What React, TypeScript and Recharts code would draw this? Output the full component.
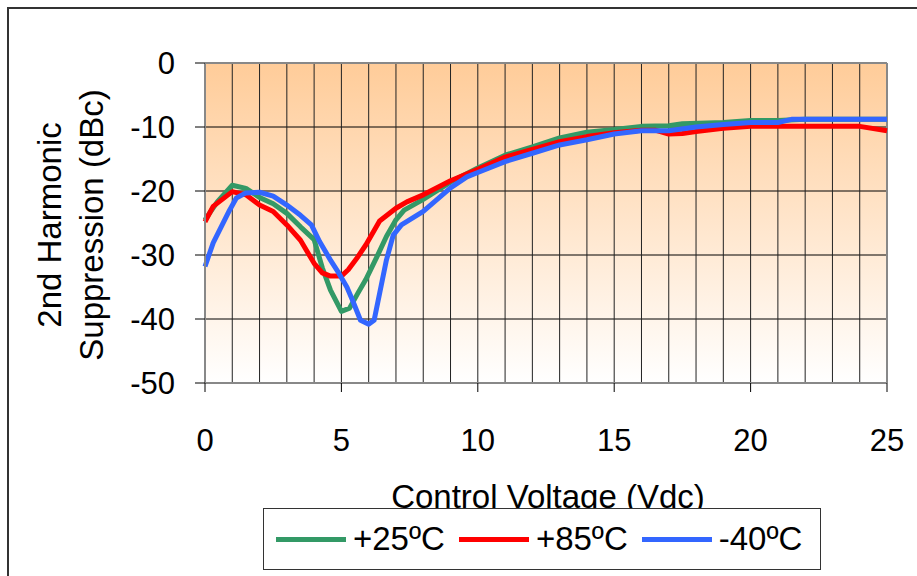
import React from "react";
import {
  LineChart,
  Line,
  XAxis,
  YAxis,
  CartesianGrid,
  ReferenceLine,
  Label,
} from "recharts";

const FONT = "'Liberation Sans', Arial, sans-serif";
const W = 917;
const H = 576;

const X_TICKS = [0, 5, 10, 15, 20, 25];
const Y_TICKS = [0, -10, -20, -30, -40, -50];
const GRID_X = [1, 2, 3, 4, 5, 6, 7, 8, 9, 10, 11, 12, 13, 14, 15, 16, 17, 18, 19, 20, 21, 22, 23, 24];

// +25ºC
const T25_X = [0, 0.45, 1, 1.5, 2, 2.5, 3, 3.5, 4, 4.3, 4.6, 5, 5.3, 5.6, 5.9, 6.3, 6.65, 7, 7.3, 8, 9, 10, 11, 12, 13, 14, 15, 16, 17, 17.5, 19, 20, 21, 22, 25];
const T25_Y = [-24.5, -21.7, -19.1, -19.6, -21, -22, -23.5, -25.6, -27.6, -32, -35.5, -38.8, -38.3, -36, -33.8, -30.3, -27.1, -24.5, -23, -21.3, -18.6, -16.4, -14.4, -13.1, -11.7, -10.8, -10.4, -9.9, -9.8, -9.5, -9.3, -9.0, -9.0, -8.8, -8.8];

// +85ºC
const T85_X = [0, 0.3, 1, 1.5, 2, 2.5, 3, 3.5, 4, 4.3, 4.6, 5, 5.25, 5.6, 5.9, 6.4, 7, 7.4, 8, 9, 10, 11, 12, 13, 14, 15, 16, 16.5, 17, 17.5, 18, 19, 20, 24, 25];
const T85_Y = [-24.8, -22.4, -20.1, -20.6, -22.2, -23.2, -25.3, -27.7, -31.3, -32.8, -33.3, -33.3, -32.3, -30.3, -28.4, -24.7, -22.7, -21.7, -20.6, -18.4, -16.6, -14.7, -13.5, -12.3, -11.5, -10.9, -10.5, -10.5, -11.1, -11, -10.7, -10.2, -9.9, -9.9, -10.6];

// -40ºC
const TM40_X = [0, 0.3, 0.9, 1.15, 1.5, 2, 2.5, 3, 3.5, 3.9, 4.2, 4.6, 4.9, 5.2, 5.4, 5.7, 6, 6.2, 6.4, 6.65, 6.9, 7.2, 8, 9, 9.6, 10, 11, 12, 13, 14, 15, 16, 17, 18, 19, 20, 21, 21.5, 25];
const TM40_Y = [-31.8, -28.1, -23, -21.1, -20.3, -20.2, -20.8, -22.2, -23.8, -25.3, -27.9, -30.8, -32.8, -35, -37, -40.2, -40.8, -40.2, -36, -30.8, -26.9, -25.3, -23.2, -19.5, -17.8, -17.1, -15.4, -14.1, -12.8, -12, -11.1, -10.6, -10.6, -10, -9.6, -9.3, -9.3, -8.8, -8.8];

const zip = (xs: number[], ys: number[]) => xs.map((x, i) => ({ x, y: ys[i] }));

const SERIES = [
  { name: "+25ºC", color: "#339966", data: zip(T25_X, T25_Y) },
  { name: "+85ºC", color: "#FF0000", data: zip(T85_X, T85_Y) },
  { name: "-40ºC", color: "#3366FF", data: zip(TM40_X, TM40_Y) },
];

function YTitle({ viewBox }: any) {
  const cy = viewBox.y + viewBox.height / 2 + 2;
  return (
    <g fontFamily={FONT} fontSize={33} fill="#000">
      <text x={61} y={cy} textAnchor="middle" transform={`rotate(-90 61 ${cy})`}>
        2nd Harmonic
      </text>
      <text x={103} y={cy} textAnchor="middle" transform={`rotate(-90 103 ${cy})`}>
        Suppression (dBc)
      </text>
    </g>
  );
}

function XTitle({ viewBox }: any) {
  const cx = viewBox.x + viewBox.width / 2;
  return (
    <text x={cx + 2} y={viewBox.y + 125} textAnchor="middle" fontFamily={FONT} fontSize={33} fill="#000">
      Control Voltage (Vdc)
    </text>
  );
}

function LegendBox() {
  return (
    <div
      style={{
        position: "absolute",
        left: 263,
        top: 508,
        width: 558,
        height: 62,
        border: "1.5px solid #333",
        background: "#fff",
        display: "flex",
        alignItems: "center",
        paddingLeft: 12,
        boxSizing: "border-box",
        fontFamily: FONT,
        fontSize: 33,
        color: "#000",
      }}
    >
      {SERIES.map((s) => (
        <div key={s.name} style={{ display: "flex", alignItems: "center", marginRight: 14 }}>
          <span style={{ width: 70, height: 5, background: s.color, marginRight: 7 }} />
          <span>{s.name}</span>
        </div>
      ))}
    </div>
  );
}

export default function App() {
  return (
    <div style={{ position: "absolute", left: 0, top: 0, width: W, height: H, overflow: "hidden", background: "#fff" }}>
      <div
        style={{
          position: "absolute",
          left: 7,
          top: 7,
          width: W,
          height: H,
          borderTop: "2px solid #333",
          borderLeft: "2px solid #333",
        }}
      />
      <div style={{ position: "absolute", left: 0, top: 0 }}>
        <LineChart width={W} height={H} margin={{ top: 63, right: 30, left: 0, bottom: 0 }}>
          <defs>
            <linearGradient id="bg" x1="0" y1="0" x2="0" y2="1">
              <stop offset="0%" stopColor="#FFCC99" />
              <stop offset="100%" stopColor="#FFFFFF" />
            </linearGradient>
          </defs>
          <CartesianGrid vertical={false} stroke="#000" strokeWidth={1} fill="url(#bg)" fillOpacity={1} />
          {GRID_X.map((v) => (
            <ReferenceLine key={v} x={v} stroke="#222" strokeWidth={1} />
          ))}
          <ReferenceLine y={0} stroke="#888" strokeWidth={2} />
          <ReferenceLine x={25} stroke="#888" strokeWidth={2} />
          <XAxis
            type="number"
            dataKey="x"
            domain={[0, 25]}
            ticks={X_TICKS}
            allowDuplicatedCategory={false}
            height={193}
            tickSize={9}
            tickMargin={37}
            axisLine={{ stroke: "#888", strokeWidth: 2 }}
            tickLine={{ stroke: "#000" }}
            tick={{ fill: "#000", fontSize: 31, fontFamily: FONT }}
          >
            <Label content={<XTitle />} />
          </XAxis>
          <YAxis
            type="number"
            domain={[-50, 0]}
            ticks={Y_TICKS}
            width={205}
            tickSize={10}
            tickMargin={20}
            axisLine={{ stroke: "#888", strokeWidth: 2 }}
            tickLine={{ stroke: "#000" }}
            tick={{ fill: "#000", fontSize: 31, fontFamily: FONT }}
          >
            <Label content={<YTitle />} />
          </YAxis>
          {SERIES.map((s) => (
            <Line
              key={s.name}
              data={s.data}
              dataKey="y"
              name={s.name}
              type="linear"
              stroke={s.color}
              strokeWidth={5}
              strokeLinejoin="round"
              dot={false}
              activeDot={false}
              isAnimationActive={false}
            />
          ))}
        </LineChart>
      </div>
      <LegendBox />
    </div>
  );
}
